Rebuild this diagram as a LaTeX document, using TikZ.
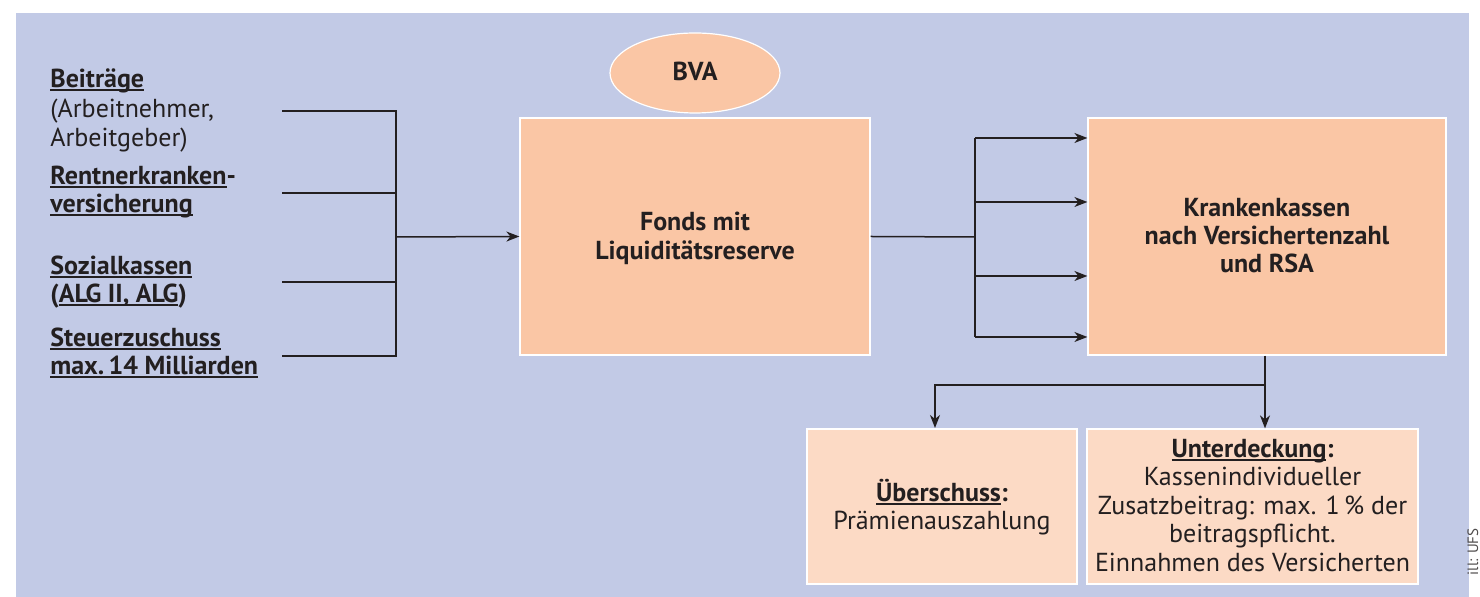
\documentclass[tikz,border=0pt]{standalone}
\usepackage{fontspec}
\setmainfont{PT Sans}
\usetikzlibrary{arrows.meta,shapes.geometric}
\definecolor{bg}{HTML}{C2CAE6}
\definecolor{boxfill}{HTML}{FAC6A5}
\definecolor{lightfill}{HTML}{FCDAC5}
\definecolor{ink}{HTML}{231F20}
\newcommand\ulx[1]{\setbox0\hbox{#1}\rlap{\rule[-1.3pt]{\wd0}{0.6pt}}\box0}
\tikzset{
  mainbox/.style={draw=white, line width=0.6pt, fill=boxfill, inner sep=0pt},
  lightbox/.style={draw=white, line width=0.6pt, fill=lightfill, inner sep=0pt},
  lbl/.style={anchor=base west, inner sep=0pt, text=ink, font=\fontsize{13}{14.5}\selectfont},
  lblb/.style={lbl, font=\fontsize{13}{14.5}\selectfont\bfseries},
  ctr/.style={anchor=base, inner sep=0pt, text=ink, font=\fontsize{13}{14.5}\selectfont},
  ctrb/.style={ctr, font=\fontsize{13}{14.5}\selectfont\bfseries},
  conn/.style={draw=ink, line width=0.75pt},
  arr/.style={conn, -{Stealth[length=6.5pt,width=5pt,inset=2pt]}},
}
\begin{document}
\begin{tikzpicture}[x=0.5pt,y=-0.5pt]
\useasboundingbox (0,0) rectangle (1480,597);
\fill[bg] (16,13) rectangle (1469,600);

% left labels
\node[lblb] (b1) at (50,88) {\ulx{Beiträge}};
\node[lbl]  (b2) at (50,118) {(Arbeitnehmer,};
\node[lbl]  (b3) at (50,147) {Arbeitgeber)};
\node[lblb] (r1) at (50,185) {\ulx{Rentnerkranken}-};
\node[lblb] (r2) at (50,213) {\ulx{versicherung}};
\node[lblb] (s1) at (50,275) {\ulx{Sozialkassen}};
\node[lblb] (s2) at (50,303) {(\ulx{ALG II, ALG})};
\node[lblb] (t1) at (50,347) {\ulx{Steuerzuschuss}};
\node[lblb] (t2) at (50,375) {\ulx{max.\,14 Milliarden}};

% main boxes
\node[mainbox, minimum width=175pt, minimum height=118.5pt] (fonds) at (695,236.5) {};
\node[ctrb] (f1) at (695,231) {Fonds mit};
\node[ctrb] (f2) at (695,260) {Liquiditätsreserve};
\node[mainbox, ellipse, minimum width=85pt, minimum height=40pt] (bva) at (695,73) {};
\node[ctrb] (bvat) at (695,81) {BVA};

\node[mainbox, minimum width=179pt, minimum height=118.5pt] (kk) at (1267,236.5) {};
\node[ctrb] (k1) at (1267,217) {Krankenkassen};
\node[ctrb] (k2) at (1267,245) {nach Versichertenzahl};
\node[ctrb] (k3) at (1267,273) {und RSA};

\node[lightbox, minimum width=135pt, minimum height=77.5pt] (ueb) at (942,506.5) {};
\node[ctr] (u1) at (942,502) {\textbf{\ulx{Überschuss}:}};
\node[ctr] (u2) at (942,530) {Prämienauszahlung};

\node[lightbox, minimum width=165.5pt, minimum height=77.5pt] (unt) at (1252.5,506.5) {};
\node[ctr] (d1) at (1252.5,458) {\textbf{\ulx{Unterdeckung}:}};
\node[ctr] (d2) at (1252.5,486) {Kassenindividueller};
\node[ctr] (d3) at (1252.5,515) {Zusatzbeitrag: max. 1\,\% der};
\node[ctr] (d4) at (1252.5,543) {beitragspflicht.};
\node[ctr] (d5) at (1252.5,572) {Einnahmen des Versicherten};

% credit
\node[rotate=90, anchor=base east, inner sep=0pt, text=ink!80, font=\fontsize{7.5}{9}\selectfont] (cred) at (1478,528) {ill: UFS};

% left collector
\coordinate (lb) at (282,111);
\coordinate (lr) at (282,193);
\coordinate (ls) at (282,282);
\coordinate (lt) at (282,356);
\coordinate (vx) at (396,237);
\draw[conn] (lb) -- (396,111) -- (396,356) -- (lt);
\draw[conn] (lr) -- (396,193);
\draw[conn] (ls) -- (396,282);
\draw[arr] (vx) -- (fonds.west);

% right distributor
\coordinate (rx) at (975,237);
\draw[conn] (fonds.east) -- (rx);
\draw[conn] (975,138) -- (975,337);
\draw[arr] (975,138) -- (kk.west |- 0,138);
\draw[arr] (975,202) -- (kk.west |- 0,202);
\draw[arr] (975,276) -- (kk.west |- 0,276);
\draw[arr] (975,337) -- (kk.west |- 0,337);

% bottom split
\coordinate (sp) at (1265,385);
\draw[conn] (kk.south -| sp) -- (sp);
\draw[arr] (sp) -- (ueb.north -| sp);
\draw[arr] (sp) -| (935,428);
\end{tikzpicture}
\end{document}
